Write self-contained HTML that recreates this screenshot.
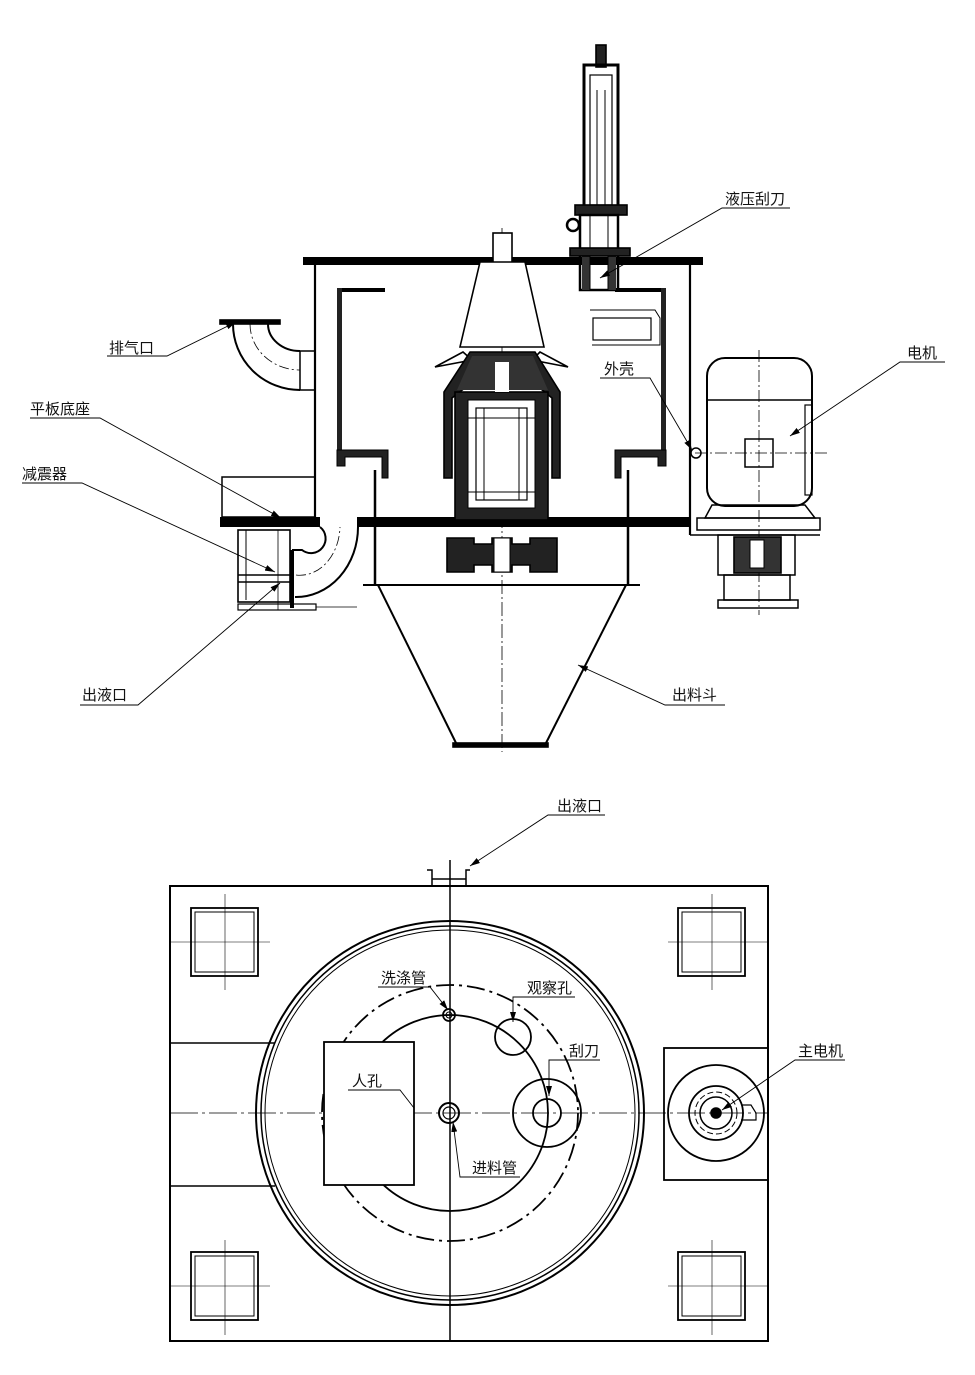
<!DOCTYPE html>
<html><head><meta charset="utf-8"><style>
html,body{margin:0;padding:0;background:#fff;}
svg{display:block;}
text{font-family:"Liberation Sans","Noto Sans CJK SC",sans-serif;font-size:15px;fill:#111;}
</style></head><body>
<svg width="975" height="1375" viewBox="0 0 975 1375" xmlns="http://www.w3.org/2000/svg">
<defs>
<marker id="ar" viewBox="0 0 10 6" refX="10" refY="3" markerWidth="10" markerHeight="6" orient="auto" markerUnits="userSpaceOnUse"><path d="M0,0 L10,3 L0,6 z" fill="#000"/></marker>
</defs>
<g fill="none" stroke="#000" stroke-width="1.6">
<line x1="502" y1="228" x2="502" y2="752" stroke-width="0.8" stroke-dasharray="14,3,2,3"/>
<rect x="303" y="257" width="400" height="8" fill="#000" stroke="none"/>
<line x1="315" y1="265" x2="315" y2="520" stroke-width="2.2"/>
<line x1="690" y1="265" x2="690" y2="535" stroke-width="2.2"/>
<line x1="690" y1="535" x2="820" y2="535"/>
<!-- left inner basket -->
<rect x="338" y="288" width="47" height="4" fill="#000" stroke="none"/>
<rect x="337" y="288" width="5" height="178" fill="#222" stroke="none"/>
<path d="M337,450 H388 V478 H382 V457 H345 V466 H337 Z" fill="#222" stroke-width="1"/>
<!-- right inner -->
<rect x="615" y="288" width="50" height="4" fill="#000" stroke="none"/>
<rect x="661" y="288" width="5" height="178" fill="#222" stroke="none"/>
<path d="M666,450 H615 V478 H621 V457 H658 V466 H666 Z" fill="#222" stroke-width="1"/>
<line x1="375" y1="470" x2="375" y2="585" stroke-width="2.5"/>
<line x1="628" y1="470" x2="628" y2="585" stroke-width="2.5"/>
<rect x="220" y="517" width="100" height="10" fill="#000" stroke="none"/>
<rect x="357" y="517" width="333" height="10" fill="#000" stroke="none"/>
<!-- cone -->
<rect x="493" y="233" width="19" height="42" fill="#fff"/>
<path d="M480,262 L525,262 L544,347 L460,347 Z" fill="#fff"/>
<path d="M435,367 L463,352 L472,360 Z M568,367 L540,352 L532,360 Z" fill="#fff"/>
<!-- hub hood -->
<path d="M470,352 L535,352 L560,392 L560,478 L552,478 L552,398 L530,380 L475,380 L452,398 L452,478 L444,478 L444,392 Z" fill="#222"/>
<path d="M472,356 L533,356 L548,390 L457,390 Z" fill="#333" stroke="none"/>
<!-- core -->
<rect x="455" y="392" width="93" height="128" fill="#222"/>
<rect x="468" y="400" width="67" height="108" fill="#fff" stroke-width="1"/>
<rect x="476" y="408" width="51" height="92" fill="#fff" stroke-width="1.2"/>
<line x1="484" y1="408" x2="484" y2="500" stroke-width="1"/>
<line x1="519" y1="408" x2="519" y2="500" stroke-width="1"/>
<line x1="468" y1="418" x2="535" y2="418" stroke-width="1"/>
<line x1="468" y1="492" x2="535" y2="492" stroke-width="1"/>
<rect x="495" y="362" width="14" height="30" fill="#fff" stroke="none"/>
<!-- coupling -->
<path d="M447,538 H474 V544 H492 V538 H512 V544 H530 V538 H557 V572 H530 V565 H512 V572 H492 V565 H474 V572 H447 Z" fill="#222"/>
<rect x="494" y="538" width="16" height="34" fill="#fff" stroke-width="1"/>
<!-- hopper -->
<line x1="363" y1="585" x2="640" y2="585" stroke-width="2"/>
<line x1="378" y1="585" x2="457" y2="745" stroke-width="2"/>
<line x1="626" y1="585" x2="545" y2="745" stroke-width="2"/>
<rect x="453" y="743" width="95" height="4" fill="#000"/>
<!-- hydraulic cylinder -->
<rect x="596" y="45" width="10" height="22" fill="#222"/>
<rect x="584" y="65" width="34" height="145" stroke-width="3"/>
<rect x="590" y="75" width="22" height="130" stroke-width="1.2"/>
<line x1="597" y1="90" x2="597" y2="205" stroke-width="1"/>
<line x1="605" y1="90" x2="605" y2="205" stroke-width="1"/>
<rect x="575" y="205" width="52" height="10" fill="#222"/>
<circle cx="573" cy="225" r="6" stroke-width="2.5"/>
<rect x="580" y="215" width="38" height="75" stroke-width="2.5"/>
<rect x="582" y="255" width="8" height="35" fill="#333" stroke="none"/>
<rect x="608" y="255" width="8" height="35" fill="#333" stroke="none"/>
<line x1="590" y1="215" x2="590" y2="290" stroke-width="1"/>
<line x1="608" y1="215" x2="608" y2="290" stroke-width="1"/>
<rect x="570" y="248" width="60" height="8" fill="#222"/>
<path d="M590,310 H655 L660,318 V345 H592" stroke-width="1"/>
<rect x="593" y="318" width="58" height="22" stroke-width="1.2"/>
<!-- exhaust pipe -->
<rect x="220" y="320" width="60" height="4" fill="#000"/>
<path d="M233,324 A67,66 0 0 0 300,390" stroke-width="2"/>
<path d="M268,324 A32,27 0 0 0 300,351" stroke-width="2"/>
<path d="M250,324 A50,46 0 0 0 300,370" stroke-width="0.8" stroke-dasharray="10,3,2,3"/>
<rect x="300" y="351" width="15" height="39" stroke-width="1.5"/>
<!-- left base -->
<rect x="222" y="477" width="93" height="40" stroke-width="1.5"/>
<rect x="238" y="530" width="52" height="72" stroke-width="1.6"/>
<line x1="246" y1="530" x2="246" y2="600" stroke-width="1"/>
<line x1="238" y1="575" x2="290" y2="575"/>
<line x1="238" y1="582" x2="290" y2="582"/>
<line x1="278" y1="530" x2="278" y2="610" stroke-width="0.8"/>
<rect x="238" y="604" width="78" height="6" stroke-width="1.2"/>
<line x1="316" y1="607" x2="357" y2="607" stroke-width="0.8"/>
<line x1="292" y1="550" x2="292" y2="608" stroke-width="4"/>
<path d="M292,550 H302 A12,12 0 0 0 320,527" stroke-width="2"/>
<path d="M295,597 A62,70 0 0 0 358,527" stroke-width="2"/>
<path d="M296,575 A40,50 0 0 0 340,527" stroke-width="0.8" stroke-dasharray="10,3,2,3"/>
<!-- motor -->
<rect x="707" y="358" width="105" height="148" rx="18" stroke-width="2"/>
<line x1="707" y1="400" x2="812" y2="400"/>
<rect x="745" y="439" width="28" height="28" stroke-width="1.5"/>
<rect x="805" y="405" width="7" height="90" stroke-width="1.2"/>
<circle cx="696" cy="453" r="5" stroke-width="1.5"/>
<line x1="695" y1="453" x2="830" y2="453" stroke-width="0.8" stroke-dasharray="12,3,2,3"/>
<line x1="759" y1="350" x2="759" y2="615" stroke-width="0.8" stroke-dasharray="12,3,2,3"/>
<path d="M712,505 L805,505 L815,518 L705,518 Z" stroke-width="1.5"/>
<rect x="697" y="518" width="123" height="12" stroke-width="1.5"/>
<rect x="718" y="535" width="77" height="40" stroke-width="1.5"/>
<rect x="734" y="537" width="47" height="36" fill="#333"/>
<rect x="750" y="540" width="14" height="28" fill="#fff" stroke-width="1"/>
<rect x="724" y="575" width="66" height="25" stroke-width="1.5"/>
<rect x="718" y="600" width="80" height="8" stroke-width="1.5"/>
<g stroke-width="0.9">
<path d="M790,208 H722 L600,278" marker-end="url(#ar)"/>
<path d="M107,356 H167 L236,322" marker-end="url(#ar)"/>
<path d="M30,418 H100 L281,518" marker-end="url(#ar)"/>
<path d="M22,483 H82 L275,572" marker-end="url(#ar)"/>
<path d="M80,705 H138 L280,583" marker-end="url(#ar)"/>
<path d="M725,705 H665 L578,665" marker-end="url(#ar)"/>
<path d="M600,378 H650 L692,450" marker-end="url(#ar)"/>
<path d="M945,362 H900 L790,436" marker-end="url(#ar)"/>
</g>
<!-- plan view -->
<rect x="170" y="886" width="598" height="455" stroke-width="2"/>
<line x1="450" y1="860" x2="450" y2="1341" stroke-width="1.5"/>
<line x1="170" y1="1113" x2="768" y2="1113" stroke-width="0.8" stroke-dasharray="28,4,3,4"/>
<line x1="170" y1="1043" x2="275" y2="1043"/>
<line x1="170" y1="1186" x2="275" y2="1186"/>
<path d="M427,870 H432 V886 M470,870 H466 V886 M432,879 H466" stroke-width="1.5"/>
<ellipse cx="450" cy="1113" rx="194" ry="192" stroke-width="2"/>
<ellipse cx="450" cy="1113" rx="189" ry="187" stroke-width="1.5"/>
<ellipse cx="450" cy="1113" rx="185" ry="183" stroke-width="1"/>
<circle cx="450" cy="1113" r="98" stroke-width="1.8"/>
<circle cx="450" cy="1113" r="128" stroke-width="1.8" stroke-dasharray="18,5,3,5"/>
<rect x="324" y="1042" width="90" height="143" fill="#fff" stroke-width="1.8"/>
<circle cx="449" cy="1113" r="10" stroke-width="2"/>
<circle cx="449" cy="1113" r="6" stroke-width="1.2"/>
<circle cx="449" cy="1015" r="6" stroke-width="1.8"/>
<circle cx="449" cy="1015" r="3" stroke-width="1"/>
<circle cx="513" cy="1037" r="18" stroke-width="1.8"/>
<circle cx="547" cy="1113" r="34" stroke-width="1.8"/>
<circle cx="547" cy="1113" r="14" stroke-width="1.8"/>
<g stroke-width="1.8">
<rect x="191" y="908" width="67" height="68"/><rect x="195" y="912" width="59" height="60" stroke-width="1"/>
<rect x="678" y="908" width="67" height="68"/><rect x="682" y="912" width="59" height="60" stroke-width="1"/>
<rect x="191" y="1252" width="67" height="68"/><rect x="195" y="1256" width="59" height="60" stroke-width="1"/>
<rect x="678" y="1252" width="67" height="68"/><rect x="682" y="1256" width="59" height="60" stroke-width="1"/>
</g>
<g stroke-width="0.6">
<line x1="225" y1="894" x2="225" y2="990"/><line x1="170" y1="942" x2="270" y2="942"/>
<line x1="712" y1="894" x2="712" y2="990"/><line x1="668" y1="942" x2="768" y2="942"/>
<line x1="225" y1="1240" x2="225" y2="1335"/><line x1="170" y1="1286" x2="270" y2="1286"/>
<line x1="712" y1="1240" x2="712" y2="1335"/><line x1="668" y1="1286" x2="768" y2="1286"/>
</g>
<rect x="664" y="1048" width="104" height="132" stroke-width="1.8"/>
<circle cx="716" cy="1113" r="48" stroke-width="1.8"/>
<circle cx="716" cy="1113" r="27" stroke-width="1.8"/>
<circle cx="716" cy="1113" r="21" stroke-width="1" stroke-dasharray="6,3"/>
<circle cx="716" cy="1113" r="16" stroke-width="1.5"/>
<circle cx="716" cy="1113" r="5" fill="#000"/>
<path d="M741,1105 H751 L756,1113 V1120 H741" stroke-width="1.2"/>
<g stroke-width="0.9">
<path d="M605,815 H548 L470,866" marker-end="url(#ar)"/>
<path d="M378,987 H430 L448,1010" marker-end="url(#ar)"/>
<path d="M575,997 H513 V1022" marker-end="url(#ar)"/>
<path d="M600,1060 H549 V1096" marker-end="url(#ar)"/>
<path d="M348,1090 H400 L414,1108"/>
<path d="M520,1177 H460 L453,1122" marker-end="url(#ar)"/>
<path d="M845,1060 H795 L722,1110" marker-end="url(#ar)"/>
</g>
</g>
<text x="725" y="204">液压刮刀</text>
<text x="109" y="353">排气口</text>
<text x="30" y="414">平板底座</text>
<text x="22" y="479">减震器</text>
<text x="82" y="700">出液口</text>
<text x="672" y="700">出料斗</text>
<text x="604" y="374">外壳</text>
<text x="907" y="358">电机</text>
<text x="557" y="811">出液口</text>
<text x="381" y="983">洗涤管</text>
<text x="527" y="993">观察孔</text>
<text x="569" y="1056">刮刀</text>
<text x="352" y="1086">人孔</text>
<text x="472" y="1173">进料管</text>
<text x="798" y="1056">主电机</text>
</svg>
</body></html>
